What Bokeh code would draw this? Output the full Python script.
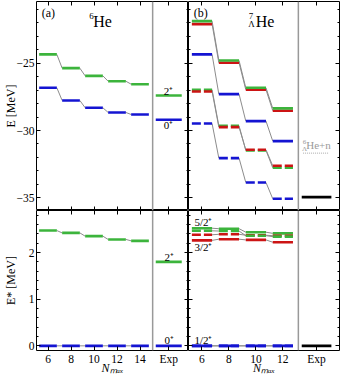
import math
from bokeh.plotting import figure
from bokeh.models import LinearAxis, FixedTicker, Span, Label, Range1d
from bokeh.layouts import gridplot
from bokeh.embed import file_html
from bokeh.resources import INLINE

# ---------------- data ----------------
nmax_he6 = [6, 8, 10, 12, 14]
he6_E_2p = [-24.35, -25.37, -25.94, -26.34, -26.56]
he6_E_0p = [-26.83, -27.77, -28.31, -28.66, -28.81]
he6_exp_E_2p = -27.4
he6_exp_E_0p = -29.2
he6_Ex_2p = [2.47, 2.42, 2.35, 2.28, 2.25]
he6_Ex_0p = [0.0, 0.0, 0.0, 0.0, 0.0]
he6_exp_Ex_2p = 1.8
he6_exp_Ex_0p = 0.0

nmax_lhe7 = [6, 8, 10, 12]
lhe7_E_52 = [-21.88, -24.80, -26.83, -28.36]
lhe7_E_32 = [-22.10, -24.97, -26.97, -28.53]
lhe7_E_12 = [-24.35, -27.30, -29.30, -30.79]
lhe7_E_52_d = [-26.97, -29.65, -31.48, -32.77]
lhe7_E_32_d = [-27.10, -29.75, -31.43, -32.62]
lhe7_E_12_d = [-29.48, -32.05, -33.86, -35.07]
lhe7_exp_E = -34.95
lhe7_threshold = -31.68

lhe7_Ex_52 = [2.52, 2.51, 2.435, 2.41]
lhe7_Ex_32 = [2.26, 2.285, 2.27, 2.22]
lhe7_Ex_52_d = [2.465, 2.46, 2.36, 2.34]
lhe7_Ex_32_d = [2.38, 2.39, 2.37, 2.36]
lhe7_Ex_12 = [0.0, 0.0, 0.0, 0.0]
lhe7_Ex_12_d = [0.0, 0.0, 0.0, 0.0]
lhe7_exp_Ex = 0.0

xticks_a = [6, 8, 10, 12, 14, 16.5]
xlabels_a = ["6", "8", "10", "12", "14", "Exp"]
xticks_b = [6, 8, 10, 12, 14.5]
xlabels_b = ["6", "8", "10", "12", "Exp"]
yticks_up = [-35, -30, -25]
ylabels_up = ["\u221235", "\u221230", "\u221225"]
yticks_lo = [0, 1, 2]
ylabels_lo = ["0", "1", "2"]

# ---------------- style ----------------
GREEN = "#3cb43c"
BLUE = "#1414d2"
RED = "#cc1414"
BLACK = "#000000"
GRAY = "#8c8c8c"
SERIF = "Liberation Serif"
LW = 2.6
HW_A, HW_B = 0.77, 0.75
EHW_A, EHW_B = 1.13, 1.1
SEP_A, SEP_B = 15.1, 13.15

xr_a = Range1d(5, 5 + 152 / 11.5)
xr_b = Range1d(5, 5 + 151 / 13.48)
yr_up = Range1d(-35.94, -20.42)
yr_lo = Range1d(-0.1, 2.9)


def make_fig(xr, yr, fw, fh, bl, br, bt, bb):
    p = figure(x_range=xr, y_range=yr, frame_width=fw, frame_height=fh,
               output_backend="svg", toolbar_location=None,
               x_axis_location=None, y_axis_location=None,
               min_border=0, min_border_left=bl, min_border_right=br,
               min_border_top=bt, min_border_bottom=bb)
    p.xgrid.visible = False
    p.ygrid.visible = False
    p.outline_line_color = "black"
    p.outline_line_width = 1
    p.background_fill_color = "white"
    p.border_fill_color = "white"
    return p


def add_axis(p, side, ticks, labels, minor=None, show=False, mlen=4, nlen=2,
             title=None, title_standoff=0, title_style="normal"):
    ax = LinearAxis(ticker=FixedTicker(ticks=ticks, minor_ticks=minor or []))
    ax.axis_line_color = None
    ax.major_tick_in = mlen
    ax.major_tick_out = 0
    ax.minor_tick_in = nlen
    ax.minor_tick_out = 0
    ax.major_tick_line_color = "black"
    ax.minor_tick_line_color = "black"
    ax.major_label_overrides = {t: l for t, l in zip(ticks, labels)}
    if show:
        ax.major_label_text_font = SERIF
        ax.major_label_text_font_size = "11.5px"
        ax.major_label_text_color = "black"
        ax.major_label_standoff = 2
    else:
        ax.major_label_text_font_size = "0px"
        ax.major_label_standoff = 0
        ax.major_label_text_alpha = 0
    if title is not None:
        ax.axis_label = title
        ax.axis_label_text_font = SERIF
        ax.axis_label_text_font_size = "12px"
        ax.axis_label_text_font_style = title_style
        ax.axis_label_text_color = "black"
        ax.axis_label_standoff = title_standoff
    p.add_layout(ax, side)


def connectors(p, xs, ys, hw):
    p.segment(x0=[x + hw for x in xs[:-1]], y0=ys[:-1],
              x1=[x - hw for x in xs[1:]], y1=ys[1:],
              line_color=GRAY, line_width=1)


def bars(p, xs, ys, hw, color, dash="solid"):
    p.segment(x0=[x - hw for x in xs], x1=[x + hw for x in xs], y0=ys, y1=ys,
              line_color=color, line_width=LW, line_dash=dash)


def lab(p, x, y, text, size="11px", xo=0, yo=0, align="center", style="normal",
        color="black", angle=0.0, baseline="middle"):
    p.add_layout(Label(x=x, y=y, text=text, text_font=SERIF, text_font_size=size,
                       text_font_style=style, text_color=color, text_align=align,
                       text_baseline=baseline, x_offset=xo, y_offset=yo, angle=angle))


ymin_up = list(range(-36, -20))
ymin_lo = [round(0.2 * k, 1) for k in range(-1, 15)]

# ---------------- panel a, upper ----------------
pa = make_fig(xr_a, yr_up, 152, 209, 34, 0, 1, 0)
add_axis(pa, "left", yticks_up, ylabels_up, ymin_up, show=True,
         title="E [MeV]", title_standoff=-4)
add_axis(pa, "right", yticks_up, ylabels_up, ymin_up)
add_axis(pa, "above", xticks_a, xlabels_a)
add_axis(pa, "below", xticks_a, xlabels_a)
pa.add_layout(Span(location=SEP_A, dimension="height", line_color="#999999", line_width=1.5))
connectors(pa, nmax_he6, he6_E_2p, HW_A)
connectors(pa, nmax_he6, he6_E_0p, HW_A)
bars(pa, nmax_he6, he6_E_2p, HW_A, GREEN)
bars(pa, nmax_he6, he6_E_0p, HW_A, BLUE)
bars(pa, [xticks_a[-1]], [he6_exp_E_2p], EHW_A, GREEN)
bars(pa, [xticks_a[-1]], [he6_exp_E_0p], EHW_A, BLUE)
lab(pa, 16.48, -27.06, "2\u207a", "11px")
lab(pa, 16.48, -29.62, "0\u207a", "11px")
lab(pa, 6.04, -21.29, "(a)", "12px")
lab(pa, 10.74, -21.87, "He", "16px")
lab(pa, 10.74, -21.87, "6", "9px", xo=-11, yo=5.5)

# ---------------- panel b, upper ----------------
pb = make_fig(xr_b, yr_up, 151, 209, 0, 3, 1, 0)
add_axis(pb, "left", yticks_up, ylabels_up, ymin_up)
add_axis(pb, "right", yticks_up, ylabels_up, ymin_up)
add_axis(pb, "above", xticks_b, xlabels_b)
add_axis(pb, "below", xticks_b, xlabels_b)
pb.add_layout(Span(location=SEP_B, dimension="height", line_color="#999999", line_width=1.5))
for ys in (lhe7_E_52, lhe7_E_32, lhe7_E_12, lhe7_E_52_d, lhe7_E_32_d, lhe7_E_12_d):
    connectors(pb, nmax_lhe7, ys, HW_B)
bars(pb, nmax_lhe7, lhe7_E_32, HW_B, RED)
bars(pb, nmax_lhe7, lhe7_E_52, HW_B, GREEN)
bars(pb, nmax_lhe7, lhe7_E_12, HW_B, BLUE)
bars(pb, nmax_lhe7, lhe7_E_52_d, HW_B, GREEN, "9 3")
bars(pb, nmax_lhe7, lhe7_E_32_d, HW_B, RED, "9 3")
bars(pb, nmax_lhe7, lhe7_E_12_d, HW_B, BLUE, "9 3")
bars(pb, [xticks_b[-1]], [lhe7_exp_E], EHW_B, BLACK)
pb.segment(x0=[13.5], x1=[15.4], y0=[lhe7_threshold], y1=[lhe7_threshold],
           line_color="#aaaaaa", line_width=1, line_dash="1 1")
lab(pb, 14.64, -31.11, "He+n", "11px", color="#9a9a9a")
lab(pb, 14.64, -31.11, "6", "7px", xo=-14, yo=3, color="#9a9a9a")
lab(pb, 14.64, -31.11, "\u039b", "7px", xo=-14, yo=-3.5, color="#9a9a9a")
lab(pb, 5.91, -21.29, "(b)", "12px")
lab(pb, 10.68, -21.9, "He", "16px")
lab(pb, 10.68, -21.9, "7", "9px", xo=-14, yo=5.5)
lab(pb, 10.68, -21.9, "\u039b", "9px", xo=-13.5, yo=-2.5)

# ---------------- panel a, lower ----------------
pc = make_fig(xr_a, yr_lo, 152, 140, 34, 0, 0, 25)
add_axis(pc, "left", yticks_lo, ylabels_lo, ymin_lo, show=True,
         title="E* [MeV]", title_standoff=8)
add_axis(pc, "right", yticks_lo, ylabels_lo, ymin_lo)
add_axis(pc, "above", xticks_a, xlabels_a)
add_axis(pc, "below", xticks_a, xlabels_a, show=True,
         title="N\u2098\u2090\u2093", title_standoff=-7, title_style="italic")
pc.add_layout(Span(location=SEP_A, dimension="height", line_color="#999999", line_width=1.5))
connectors(pc, nmax_he6, he6_Ex_2p, HW_A)
connectors(pc, nmax_he6, he6_Ex_0p, HW_A)
bars(pc, nmax_he6, he6_Ex_2p, HW_A, GREEN)
bars(pc, nmax_he6, he6_Ex_0p, HW_A, BLUE)
bars(pc, [xticks_a[-1]], [he6_exp_Ex_2p], EHW_A, GREEN)
bars(pc, [xticks_a[-1]], [he6_exp_Ex_0p], EHW_A, BLUE)
lab(pc, 16.54, 1.90, "2\u207a", "11px")
lab(pc, 16.54, 0.135, "0\u207a", "11px")

# ---------------- panel b, lower ----------------
pd = make_fig(xr_b, yr_lo, 151, 140, 0, 3, 0, 25)
add_axis(pd, "left", yticks_lo, ylabels_lo, ymin_lo)
add_axis(pd, "right", yticks_lo, ylabels_lo, ymin_lo)
add_axis(pd, "above", xticks_b, xlabels_b)
add_axis(pd, "below", xticks_b, xlabels_b, show=True,
         title="N\u2098\u2090\u2093", title_standoff=-7, title_style="italic")
pd.add_layout(Span(location=SEP_B, dimension="height", line_color="#999999", line_width=1.5))
for ys in (lhe7_Ex_52, lhe7_Ex_32, lhe7_Ex_12, lhe7_Ex_52_d, lhe7_Ex_32_d, lhe7_Ex_12_d):
    connectors(pd, nmax_lhe7, ys, HW_B)
bars(pd, nmax_lhe7, lhe7_Ex_32, HW_B, RED)
bars(pd, nmax_lhe7, lhe7_Ex_52, HW_B, GREEN)
bars(pd, nmax_lhe7, lhe7_Ex_32_d, HW_B, RED, "9 3")
bars(pd, nmax_lhe7, lhe7_Ex_52_d, HW_B, GREEN, "9 3")
bars(pd, nmax_lhe7, lhe7_Ex_12, HW_B, BLUE)
bars(pd, nmax_lhe7, lhe7_Ex_12_d, HW_B, BLUE, "9 3")
bars(pd, [xticks_b[-1]], [lhe7_exp_Ex], EHW_B, BLACK)
lab(pd, 6.11, 2.65, "5/2\u207a", "11px")
lab(pd, 6.11, 2.11, "3/2\u207a", "11px")
lab(pd, 6.11, 0.135, "1/2\u207a", "11px")

grid = gridplot([[pa, pb], [pc, pd]], toolbar_location=None)

open("out.html", "w").write(file_html(grid, INLINE))
